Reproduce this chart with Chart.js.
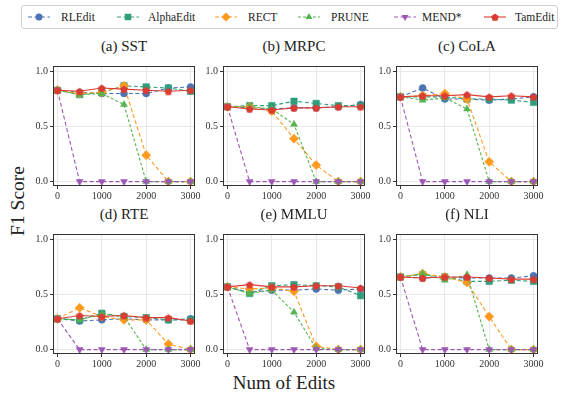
<!DOCTYPE html>
<html>
<head>
<meta charset="utf-8">
<script src="https://cdn.jsdelivr.net/npm/chart.js@4.4.1/dist/chart.umd.min.js"></script>
<style>
  html, body { margin: 0; padding: 0; background: #fff; }
  body { width: 563px; height: 397px; position: relative; overflow: hidden; font-family: "Liberation Serif", "Times New Roman", Times, serif; color: #222; }
  .abs { position: absolute; }
  .panel-title { font-size: 15px; text-align: center; width: 160px; line-height: 1; }
  #legend { left: 21px; top: 5px; width: 535px; height: 22px; border: 1px solid #cfcfcf; border-radius: 3px; }
  .leg-text { font-size: 11.5px; line-height: 1; top: 6px; }
  .leg-icon { top: 5px; }
</style>
</head>
<body>
<div id="legend" class="abs"></div>
<div class="abs" style="left:184px;top:373px;width:200px;text-align:center;font-size:19px;line-height:1;">Num of Edits</div>
<div class="abs" style="left:-32px;top:191px;width:100px;height:20px;text-align:center;font-size:19.5px;line-height:20px;transform:rotate(-90deg);">F1 Score</div>

<script>
// x 軸：編輯次數
const EDITS = [0, 500, 1000, 1500, 2000, 2500, 3000];
const X_TICKS = [0, 1000, 2000, 3000];
const Y_TICKS = [0, 0.5, 1.0];
const METHODS = ['RLEdit', 'AlphaEdit', 'RECT', 'PRUNE', 'MEND*', 'TamEdit'];
const TITLES = ['(a) SST', '(b) MRPC', '(c) CoLA', '(d) RTE', '(e) MMLU', '(f) NLI'];

// 每個任務一組，順序與 METHODS 相同
const SST = [
    [0.83, 0.81, 0.80, 0.80, 0.80, 0.85, 0.86],
    [0.83, 0.79, 0.81, 0.87, 0.86, 0.85, 0.82],
    [0.83, 0.80, 0.81, 0.87, 0.24, 0.00, 0.00],
    [0.83, 0.79, 0.80, 0.70, 0.00, 0.00, 0.00],
    [0.83, 0.00, 0.00, 0.00, 0.00, 0.00, 0.00],
    [0.83, 0.82, 0.85, 0.84, 0.83, 0.82, 0.83]
];
const MRPC = [
    [0.68, 0.67, 0.66, 0.67, 0.67, 0.68, 0.70],
    [0.68, 0.69, 0.69, 0.73, 0.71, 0.69, 0.69],
    [0.68, 0.68, 0.64, 0.39, 0.15, 0.00, 0.00],
    [0.68, 0.68, 0.66, 0.52, 0.00, 0.00, 0.00],
    [0.68, 0.00, 0.00, 0.00, 0.00, 0.00, 0.00],
    [0.68, 0.66, 0.65, 0.67, 0.67, 0.68, 0.68]
];
const COLA = [
    [0.77, 0.85, 0.75, 0.75, 0.74, 0.75, 0.77],
    [0.77, 0.77, 0.77, 0.75, 0.75, 0.74, 0.72],
    [0.77, 0.78, 0.80, 0.75, 0.18, 0.00, 0.00],
    [0.77, 0.74, 0.76, 0.66, 0.00, 0.00, 0.00],
    [0.77, 0.00, 0.00, 0.00, 0.00, 0.00, 0.00],
    [0.77, 0.78, 0.78, 0.79, 0.77, 0.78, 0.77]
];
const RTE = [
    [0.28, 0.26, 0.27, 0.28, 0.27, 0.27, 0.28],
    [0.28, 0.27, 0.33, 0.30, 0.29, 0.27, 0.27],
    [0.28, 0.38, 0.30, 0.27, 0.27, 0.05, 0.00],
    [0.28, 0.27, 0.32, 0.30, 0.00, 0.00, 0.00],
    [0.28, 0.00, 0.00, 0.00, 0.00, 0.00, 0.00],
    [0.28, 0.31, 0.30, 0.31, 0.29, 0.29, 0.26]
];
const MMLU = [
    [0.57, 0.52, 0.54, 0.54, 0.55, 0.54, 0.55],
    [0.57, 0.51, 0.58, 0.59, 0.58, 0.57, 0.49],
    [0.57, 0.55, 0.56, 0.53, 0.03, 0.00, 0.00],
    [0.57, 0.51, 0.54, 0.34, 0.01, 0.00, 0.00],
    [0.57, 0.00, 0.00, 0.00, 0.00, 0.00, 0.00],
    [0.57, 0.59, 0.57, 0.57, 0.58, 0.58, 0.56]
];
const NLI = [
    [0.66, 0.65, 0.66, 0.65, 0.65, 0.65, 0.67],
    [0.66, 0.68, 0.66, 0.62, 0.62, 0.63, 0.62],
    [0.66, 0.69, 0.66, 0.61, 0.30, 0.00, 0.00],
    [0.66, 0.69, 0.63, 0.68, 0.00, 0.00, 0.00],
    [0.66, 0.00, 0.00, 0.00, 0.00, 0.00, 0.00],
    [0.66, 0.65, 0.66, 0.66, 0.65, 0.64, 0.64]
];
const TASKS = [SST, MRPC, COLA, RTE, MMLU, NLI];

// 樣式
const COLORS = ['#4a72b5', '#2f9e7e', '#ff9a1f', '#56b34d', '#9c56b4', '#dc3b32'];
const DASHES = [[4, 2.5], [4, 2.5], [4, 2.5], [3, 2], [4, 2.5], []];
const POINT_STYLES = ['circle', 'rect', 'rectRot', 'triangle', 'triangle', 'pentagon'];
const POINT_RADII = [3.5, 4.6, 4.6, 4, 4, 4];
const POINT_ROT = [0, 0, 0, 0, 180, 0];

// 版面
const COL_LEFT = [53, 223, 396];
const ROW_TOP = [58, 226];
const PLOT_W = 142;
const PLOT_H = 127.5;
const Y_AXIS_W = 26;
const X_AXIS_H = 16;
const RIGHT_PAD = 10;
const SERIF = '"Liberation Serif", "Times New Roman", Times, serif';
const TICK_FONT = { family: SERIF, size: 10 };

Chart.defaults.font.family = SERIF;

function pentagonImage(color, r) {
    const size = Math.ceil(r * 2 + 2);
    const c = document.createElement('canvas');
    c.width = size; c.height = size;
    const g = c.getContext('2d');
    g.beginPath();
    for (let k = 0; k < 5; k++) {
        const a = -Math.PI / 2 + k * 2 * Math.PI / 5;
        const px = size / 2 + r * Math.cos(a);
        const py = size / 2 + r * Math.sin(a) + 0.4;
        if (k === 0) g.moveTo(px, py); else g.lineTo(px, py);
    }
    g.closePath();
    g.fillStyle = color;
    g.fill();
    return c;
}

const PENTAGON = pentagonImage(COLORS[5], POINT_RADII[5]);

function styleFor(i) {
    return POINT_STYLES[i] === 'pentagon' ? PENTAGON : POINT_STYLES[i];
}

// 外框
const framePlugin = {
    id: 'frame',
    afterDraw(chart) {
        const a = chart.chartArea;
        const ctx = chart.ctx;
        ctx.save();
        ctx.strokeStyle = '#333';
        ctx.lineWidth = 1;
        ctx.strokeRect(Math.round(a.left) + 0.5, Math.round(a.top) + 0.5,
            Math.round(a.right - a.left) - 1, Math.round(a.bottom - a.top) - 1);
        ctx.restore();
    }
};

function makePanel(t) {
    const col = t % 3, row = Math.floor(t / 3);
    const left = COL_LEFT[col], top = ROW_TOP[row];

    const title = document.createElement('div');
    title.className = 'abs panel-title';
    title.style.left = (left + PLOT_W / 2 - 80) + 'px';
    title.style.top = (top - 19) + 'px';
    title.textContent = TITLES[t];
    document.body.appendChild(title);

    const canvas = document.createElement('canvas');
    canvas.className = 'abs';
    canvas.width = Y_AXIS_W + PLOT_W + RIGHT_PAD;
    canvas.height = Math.round(PLOT_H + X_AXIS_H);
    canvas.style.left = (left - Y_AXIS_W) + 'px';
    canvas.style.top = top + 'px';
    document.body.appendChild(canvas);

    const datasets = TASKS[t].map((vals, i) => ({
        label: METHODS[i],
        data: EDITS.map((e, k) => ({ x: e, y: vals[k] })),
        borderColor: COLORS[i],
        backgroundColor: COLORS[i],
        borderWidth: 1.1,
        borderDash: DASHES[i],
        pointStyle: styleFor(i),
        pointRadius: POINT_RADII[i],
        pointRotation: POINT_ROT[i],
        pointBorderWidth: 0.5,
        pointBorderColor: COLORS[i],
        pointBackgroundColor: COLORS[i],
        tension: 0,
        order: METHODS.length - i
    }));

    new Chart(canvas, {
        type: 'line',
        data: { datasets },
        options: {
            responsive: false,
            animation: false,
            devicePixelRatio: 1,
            layout: { padding: { left: 0, right: RIGHT_PAD, top: 0, bottom: 0 } },
            plugins: { legend: { display: false }, tooltip: { enabled: false } },
            scales: {
                x: {
                    type: 'linear',
                    min: -100,
                    max: 3100,
                    afterBuildTicks: s => { s.ticks = X_TICKS.map(v => ({ value: v })); },
                    afterFit: s => { s.height = X_AXIS_H; },
                    ticks: { font: TICK_FONT, color: '#333', padding: 1, maxRotation: 0, autoSkip: false, callback: v => String(v) },
                    grid: { color: '#e8e8e8', tickColor: '#333', tickLength: 3, lineWidth: 1 },
                    border: { display: false }
                },
                y: {
                    min: -0.04,
                    max: 1.05,
                    afterBuildTicks: s => { s.ticks = Y_TICKS.map(v => ({ value: v })); },
                    afterFit: s => { s.width = Y_AXIS_W; },
                    ticks: { font: TICK_FONT, color: '#333', padding: 2, callback: v => Number(v).toFixed(1) },
                    grid: { color: '#e8e8e8', tickColor: '#333', tickLength: 3, lineWidth: 1 },
                    border: { display: false }
                }
            }
        },
        plugins: [framePlugin]
    });
}

// 圖例
const LEG_MARK_X = [38, 127, 225, 308, 404, 494];
const LEG_TEXT_X = [61, 148, 248, 331, 422, 515];

function drawLegendIcon(i) {
    const w = 24, h = 12;
    const c = document.createElement('canvas');
    c.width = w; c.height = h;
    c.className = 'abs leg-icon';
    c.style.left = (LEG_MARK_X[i] - 21 - w / 2) + 'px';
    const g = c.getContext('2d');
    g.strokeStyle = COLORS[i];
    g.lineWidth = 1.1;
    g.setLineDash(DASHES[i]);
    g.beginPath();
    g.moveTo(1, h / 2); g.lineTo(w - 1, h / 2);
    g.stroke();
    g.setLineDash([]);
    g.fillStyle = COLORS[i];
    const cx = w / 2, cy = h / 2, r = POINT_RADII[i];
    const s = POINT_STYLES[i];
    g.beginPath();
    if (s === 'circle') {
        g.arc(cx, cy, r, 0, Math.PI * 2);
    } else if (s === 'rect') {
        const d = r * Math.SQRT1_2;
        g.rect(cx - d, cy - d, d * 2, d * 2);
    } else if (s === 'rectRot') {
        g.moveTo(cx, cy - r); g.lineTo(cx + r, cy); g.lineTo(cx, cy + r); g.lineTo(cx - r, cy);
    } else if (s === 'triangle') {
        const dir = POINT_ROT[i] === 180 ? -1 : 1;
        g.moveTo(cx, cy - dir * r);
        g.lineTo(cx + r * 0.87, cy + dir * r * 0.5);
        g.lineTo(cx - r * 0.87, cy + dir * r * 0.5);
    } else {
        g.drawImage(PENTAGON, cx - PENTAGON.width / 2, cy - PENTAGON.height / 2);
    }
    g.closePath();
    if (s !== 'pentagon') g.fill();
    return c;
}

const legend = document.getElementById('legend');
METHODS.forEach((m, i) => {
    legend.appendChild(drawLegendIcon(i));
    const t = document.createElement('div');
    t.className = 'abs leg-text';
    t.style.left = (LEG_TEXT_X[i] - 22) + 'px';
    t.textContent = m;
    legend.appendChild(t);
});

TASKS.forEach((_, t) => makePanel(t));
</script>
</body>
</html>
